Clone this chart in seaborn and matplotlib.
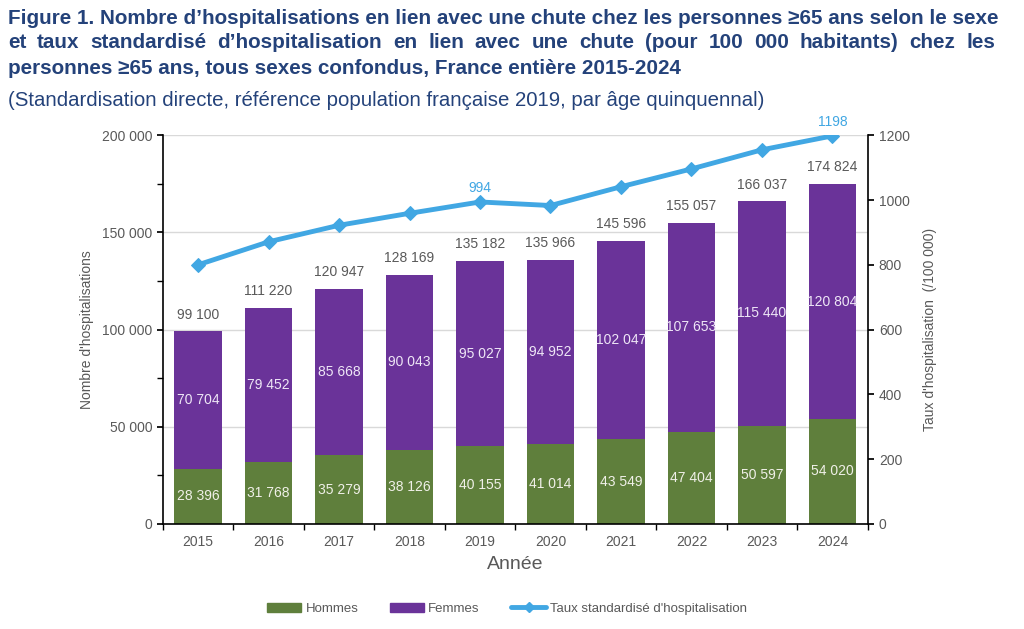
import matplotlib
matplotlib.use("Agg")
import matplotlib.pyplot as plt
import seaborn as sns
import numpy as np
import pandas as pd
from matplotlib.lines import Line2D
from matplotlib.patches import Patch

years = ["2015", "2016", "2017", "2018", "2019", "2020", "2021", "2022", "2023", "2024"]
hommes = [28396, 31768, 35279, 38126, 40155, 41014, 43549, 47404, 50597, 54020]
femmes = [70704, 79452, 85668, 90043, 95027, 94952, 102047, 107653, 115440, 120804]
totaux = [99100, 111220, 120947, 128169, 135182, 135966, 145596, 155057, 166037, 174824]
taux = [800, 871, 922, 959, 994, 983, 1041, 1096, 1155, 1198]
taux_labels = {"2019": "994", "2024": "1198"}

GREEN = "#5F7F3C"
PURPLE = "#6A3399"
BLUE = "#41A7E3"
TITLE = "#24427A"
GRAY = "#595959"

def fmt(v):
    return f"{v:,}".replace(",", " ")

sns.set_theme(style="white")
plt.rcParams["font.family"] = ["Liberation Sans", "DejaVu Sans"]

fig = plt.figure(figsize=(10.24, 6.29), dpi=100)
ax = fig.add_axes([0.159, 0.167, 0.689, 0.618])

df = pd.DataFrame({"year": years, "hommes": hommes, "femmes": femmes, "total": totaux})
sns.barplot(data=df, x="year", y="total", color=PURPLE, width=0.67, ax=ax,
            saturation=1, linewidth=0)
sns.barplot(data=df, x="year", y="hommes", color=GREEN, width=0.67, ax=ax,
            saturation=1, linewidth=0)

ax.set_xlim(-0.49, 9.51)
ax.set_ylim(0, 200000)
ax.set_yticks(np.arange(0, 200001, 50000))
ax.set_yticks(np.arange(25000, 200000, 50000), minor=True)
ax.set_yticklabels([fmt(v) for v in range(0, 200001, 50000)])
ax.yaxis.grid(True, color="#D9D9D9", linewidth=1)
ax.set_axisbelow(True)
for s in ["top", "right"]:
    ax.spines[s].set_visible(False)
ax.spines["left"].set_color("black")
ax.spines["bottom"].set_color("black")
ax.spines["left"].set_linewidth(1.2)
ax.spines["bottom"].set_linewidth(1.2)
ax.tick_params(axis="y", which="both", left=True, direction="out", length=4,
               color="black", labelsize=10, labelcolor=GRAY)
ax.tick_params(axis="x", bottom=False, labelsize=10, labelcolor=GRAY, pad=2)
ax.set_xticks(np.arange(-0.5, 10, 1.0), minor=True)
ax.tick_params(axis="x", which="minor", bottom=True, length=4, color="black", direction="out")
ax.set_xlabel("Année", fontsize=14, color=GRAY, labelpad=5)
ax.set_ylabel("Nombre d'hospitalisations", fontsize=10, color=GRAY)
ax.yaxis.set_label_coords(-0.098, 0.5)

for i, y in enumerate(years):
    ax.text(i, hommes[i] / 2, fmt(hommes[i]), ha="center", va="center",
            color="#F0F0E8", fontsize=10)
    ax.text(i, hommes[i] + femmes[i] / 2, fmt(femmes[i]), ha="center", va="center",
            color="#EEE6F6", fontsize=10)
    ax.text(i, totaux[i] + 5000, fmt(totaux[i]), ha="center", va="bottom",
            color=GRAY, fontsize=10)

ax2 = ax.twinx()
sns.lineplot(x=np.arange(len(years)), y=taux, ax=ax2, color=BLUE, linewidth=3.5,
             marker="D", markersize=7, markeredgecolor=BLUE)
ax2.set_ylim(0, 1200)
ax2.set_yticks(np.arange(0, 1201, 200))
ax2.tick_params(axis="y", right=True, direction="out", length=4, color="black",
                labelsize=10, labelcolor=GRAY)
for s in ["top", "left", "bottom"]:
    ax2.spines[s].set_visible(False)
ax2.spines["right"].set_color("black")
ax2.spines["right"].set_linewidth(1.2)
ax2.set_ylabel("Taux d'hospitalisation  (/100 000)", fontsize=10, color=GRAY)
ax2.yaxis.set_label_coords(1.077, 0.5)
ax2.grid(False)
for i, y in enumerate(years):
    if y in taux_labels:
        ax2.text(i, taux[i] + 22, taux_labels[y], ha="center", va="bottom",
                 color=BLUE, fontsize=10)

handles = [Patch(color=GREEN), Patch(color=PURPLE),
           Line2D([0], [0], color=BLUE, linewidth=3.5, marker="D", markersize=5)]
fig.legend(handles, ["Hommes", "Femmes", "Taux standardisé d'hospitalisation"],
           loc="center", bbox_to_anchor=(0.495, 0.032), ncol=3, frameon=False,
           fontsize=9.5, labelcolor=GRAY, handlelength=2.6, columnspacing=2.4,
           handletextpad=0.3)

tfont = ["Liberation Sans Narrow", "Liberation Sans", "DejaVu Sans"]
title_lines = [
    "Figure 1. Nombre d’hospitalisations en lien avec une chute chez les personnes ≥65 ans selon le sexe",
    "et taux standardisé d’hospitalisation en lien avec une chute (pour 100 000 habitants) chez les",
    "personnes ≥65 ans, tous sexes confondus, France entière 2015-2024",
]
TFS = 14.85
x0, x1 = 8, 995
fig.canvas.draw()
renderer = fig.canvas.get_renderer()
for k, line in enumerate(title_lines):
    yk = 1 - (18 + 25 * k) / 629
    if k == 1:
        # justified line: spread words across full width
        words = line.split(" ")
        arts = [fig.text(0, yk, w, fontsize=TFS, fontweight="bold", color=TITLE,
                         family=tfont, ha="left", va="center") for w in words]
        widths = [a.get_window_extent(renderer).width for a in arts]
        gap = (x1 - x0 - sum(widths)) / (len(words) - 1)
        xp = x0
        for a, w in zip(arts, widths):
            a.set_x(xp / 1024)
            xp += w + gap
    else:
        fig.text(x0 / 1024, yk, line, fontsize=TFS, fontweight="bold",
                 color=TITLE, family=tfont, ha="left", va="center")
fig.text(x0 / 1024, 1 - 101 / 629,
         "(Standardisation directe, référence population française 2019, par âge quinquennal)",
         fontsize=14.7, color=TITLE, family=tfont, ha="left", va="center")

fig.savefig("out.png", dpi=100)
